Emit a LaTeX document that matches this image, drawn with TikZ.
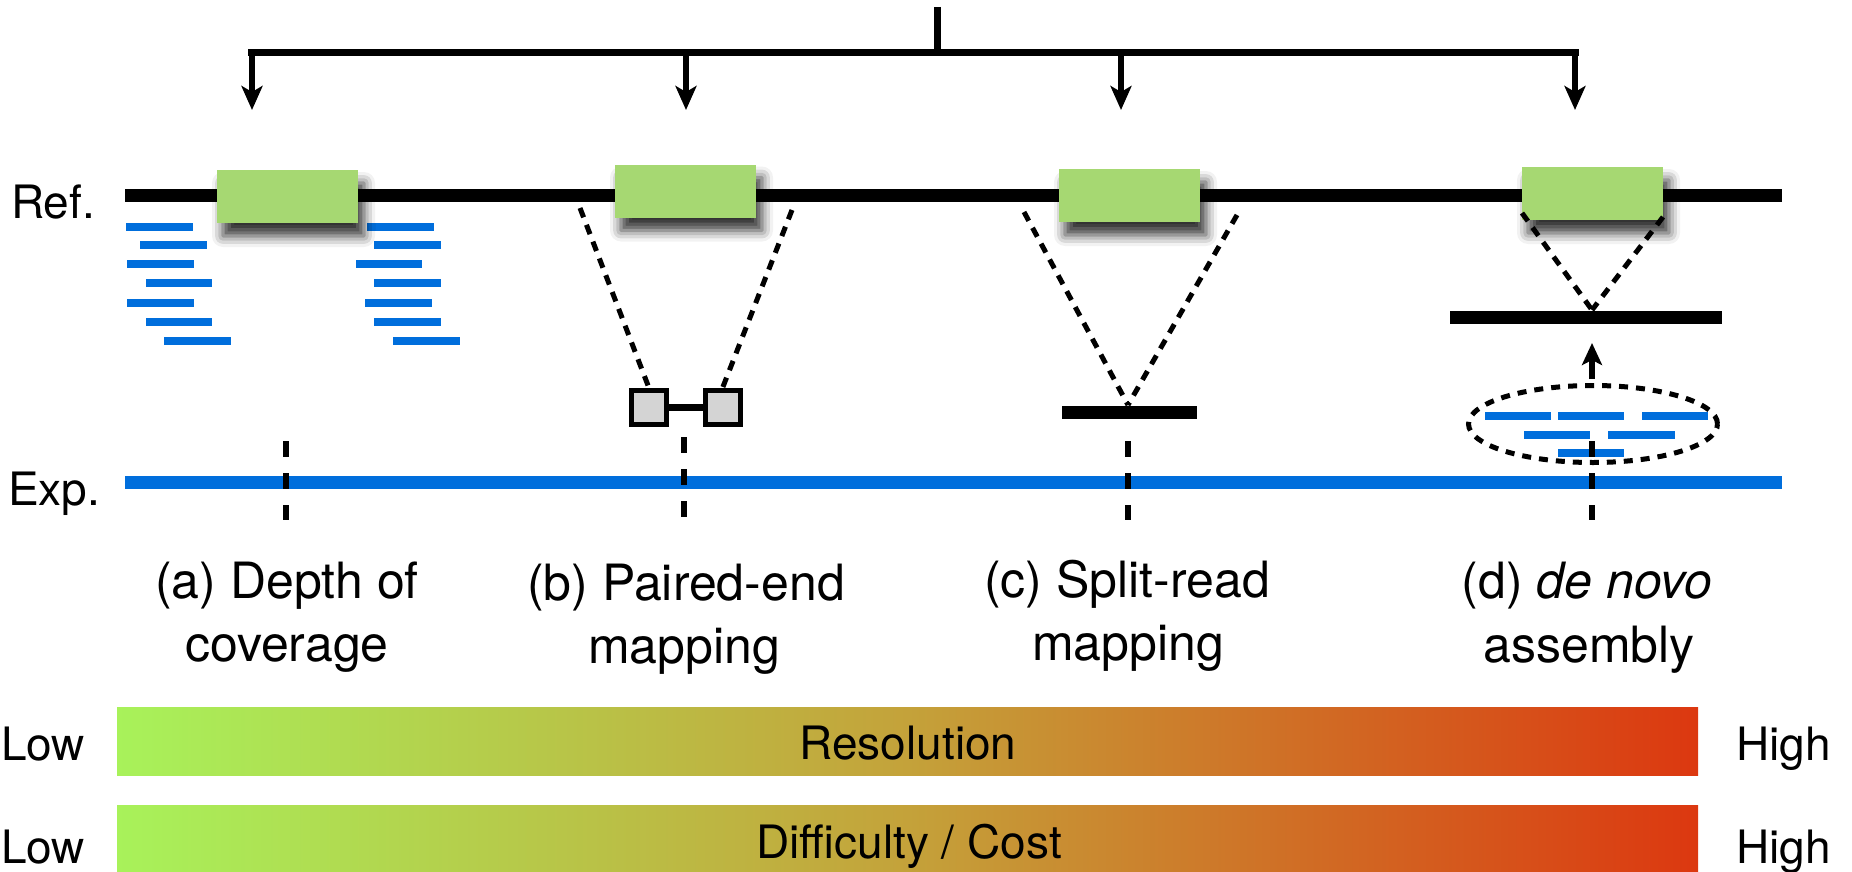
\documentclass[tikz,border=0pt]{standalone}
\usepackage{fontspec}
\setmainfont{TeX Gyre Heros}
\usetikzlibrary{shadows.blur,arrows.meta,shapes.geometric}
\definecolor{boxgreen}{RGB}{166,216,114}
\definecolor{readblue}{RGB}{0,110,220}
\definecolor{gradL}{RGB}{168,242,90}
\definecolor{gradM}{RGB}{196,162,58}
\definecolor{gradR}{RGB}{220,56,16}
\definecolor{pairgray}{RGB}{212,212,212}
\newcommand\lblfont{\fontsize{50}{60}\selectfont}
\newcommand\smfont{\fontsize{46}{55}\selectfont}
\begin{document}
\begin{tikzpicture}[x=1pt,y=-1pt,
  refline/.style={line width=13pt},
  expline/.style={line width=13pt,draw=readblue},
  treeline/.style={line width=7pt},
  downarrow/.style={line width=6pt,-{Stealth[length=24pt,width=21pt,inset=6pt]}},
  gbox/.style={fill=boxgreen,minimum width=141pt,minimum height=53pt,inner sep=0pt,
    blur shadow={shadow xshift=6pt,shadow yshift=-13pt,shadow blur radius=11pt,shadow opacity=80}},
  readln/.style={line width=8pt,draw=readblue},
  projline/.style={line width=5pt,dash pattern=on 10pt off 8pt},
  markline/.style={line width=6pt,dash pattern=on 16pt off 16pt},
  pairbox/.style={draw,line width=5pt,fill=pairgray,minimum width=35pt,minimum height=34pt,inner sep=0pt},
  contig/.style={fill=black,minimum height=13pt,inner sep=0pt},
  gradbar/.style={left color=gradL,right color=gradR,middle color=gradM,minimum width=1581pt,inner sep=0pt},
  lbl/.style={font=\lblfont,anchor=base,inner sep=0pt},
  sm/.style={font=\smfont,inner sep=0pt}
]
\useasboundingbox (0,0) rectangle (1852,872);

% top tree
\coordinate (top) at (937,7);
\coordinate (mid) at (937,53);
\coordinate (bl) at (248,53);
\coordinate (br) at (1579,53);
\draw[treeline] (top) -- (mid);
\draw[treeline] (bl) -- (br);
\foreach \n/\x in {a/252,b/686,c/1121,d/1575}{
  \coordinate (s\n) at (\x,53);
  \coordinate (t\n) at (\x,110);
  \draw[downarrow] (s\n) -- (t\n);
}

% reference line
\coordinate (refL) at (125,195);
\coordinate (refR) at (1782,195);
\draw[refline] (refL) -- (refR);

% reads (a)
\foreach \y/\xa/\xb in {227/126/193,245/140/207,264/127/194,283/146/212,303/127/194,322/146/212,341/164/231}{
  \draw[readln] (\xa,\y) -- (\xb,\y);
}
\foreach \y/\xa/\xb in {227/367/434,245/374/441,264/356/422,283/374/441,303/365/432,322/374/441,341/393/460}{
  \draw[readln] (\xa,\y) -- (\xb,\y);
}

% green boxes
\node[gbox] (ga) at (287.5,196.5) {};
\node[gbox] (gb) at (685.5,191) {};
\node[gbox] (gc) at (1129.5,195.5) {};
\node[gbox] (gd) at (1592.5,193.5) {};

% (b) paired-end
\node[pairbox] (pl) at (649,407.5) {};
\node[pairbox] (pr) at (722.5,407.5) {};
\draw[line width=7pt] (pl.east) -- (pr.west);
\coordinate (b1) at (580,208);
\coordinate (b2) at (792,210);
\draw[projline] (b1) -- (pl.north);
\draw[projline] (b2) -- (pr.north);

% (c) split-read
\node[contig,minimum width=135pt] (sc) at (1129.5,412) {};
\coordinate (c1) at (1024,212);
\coordinate (c2) at (1237,215);
\coordinate (ctip) at (1128,405);
\draw[projline] (c1) -- (ctip);
\draw[projline] (c2) -- (ctip);

% (d) de novo assembly
\node[contig,minimum width=272pt] (sd) at (1586,317) {};
\coordinate (d1) at (1522,213);
\coordinate (d2) at (1663,217);
\coordinate (dtip) at (1592,310);
\draw[projline] (d1) -- (dtip);
\draw[projline] (d2) -- (dtip);
\foreach \y/\xa/\xb in {416/1485/1551,416/1558/1624,416/1642/1708,435/1524/1590,435/1608/1675,453/1558/1624}{
  \draw[readln] (\xa,\y) -- (\xb,\y);
}
\node[ellipse,draw,line width=5pt,dash pattern=on 9pt off 8pt,minimum width=249pt,minimum height=77pt,inner sep=0pt] (ell) at (1593,424) {};
\coordinate (ua) at (1592,379);
\coordinate (uat) at (1592,343);
\draw[line width=6pt,-{Stealth[length=22pt,width=20pt,inset=5pt]}] (ua) -- (uat);

% experiment line
\coordinate (expL) at (125,482);
\coordinate (expR) at (1782,482);
\draw[expline] (expL) -- (expR);

% breakpoint markers
\foreach \n/\x/\ya in {a/286/441,b/684/437,c/1128/441,d/1592/441}{
  \coordinate (m\n1) at (\x,\ya);
  \coordinate (m\n2) at (\x,520);
  \draw[markline] (m\n1) -- (m\n2);
}

% side labels
\node[sm,anchor=base west] (reft) at (11,218) {Ref.};
\node[sm,anchor=base west] (expt) at (8,505) {Exp.};

% method labels
\node[lbl] (la1) at (287,598) {(a) Depth of};
\node[lbl] (la2) at (287,661) {coverage};
\node[lbl] (lb1) at (686,600) {(b) Paired-end};
\node[lbl] (lb2) at (684,663) {mapping};
\node[lbl] (lc1) at (1127,597) {(c) Split-read};
\node[lbl] (lc2) at (1128,660) {mapping};
\node[lbl] (ld1) at (1587,598) {(d) \textit{de novo}};
\node[lbl] (ld2) at (1589,662) {assembly};

% gradient bars
\node[gradbar,minimum height=68pt] (bar1) at (907.5,741) {};
\node[gradbar,minimum height=67pt] (bar2) at (907.5,838.5) {};
\node[sm,anchor=base] (res) at (908,759) {Resolution};
\node[sm,anchor=base] (dif) at (909,858) {Difficulty / Cost};
\node[sm,anchor=base west] (low1) at (1,760) {Low};
\node[sm,anchor=base west] (low2) at (1,863) {Low};
\node[sm,anchor=base west] (high1) at (1736,760) {High};
\node[sm,anchor=base west] (high2) at (1736,863) {High};
\end{tikzpicture}
\end{document}
